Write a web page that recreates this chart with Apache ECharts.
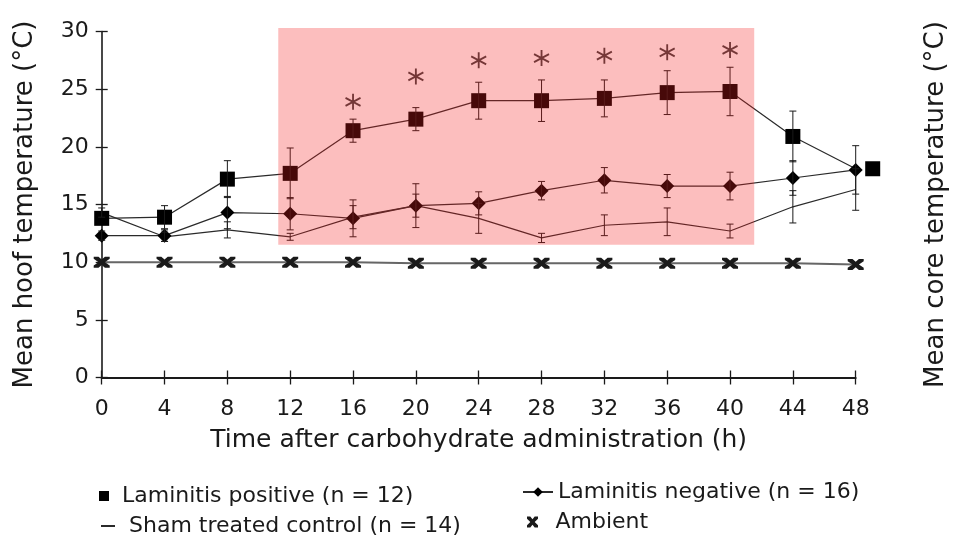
<!DOCTYPE html>
<html>
<head>
<meta charset="utf-8">
<script src="https://cdn.jsdelivr.net/npm/echarts@6/dist/echarts.min.js"></script>
<style>html,body{margin:0;padding:0;background:#fff;overflow:hidden}#chart{width:953px;height:536px}</style>
</head>
<body>
<div id="chart"></div>
<script>
// ---- data ----
const hours = [0, 4, 8, 12, 16, 20, 24, 28, 32, 36, 40, 44, 48];
const xTicks = [0, 4, 8, 12, 16, 20, 24, 28, 32, 36, 40, 44, 48];
const yTicks = [0, 5, 10, 15, 20, 25, 30];
const positive    = [13.8, 13.9, 17.2, 17.7, 21.4, 22.4, 24.0, 24.0, 24.2, 24.7, 24.8, 20.9, 18.1];
const positiveErr = [0, 1.0, 1.6, 2.2, 1.0, 1.0, 1.6, 1.8, 1.6, 1.9, 2.1, 2.2, 0];
const negative    = [12.3, 12.3, 14.3, 14.2, 13.8, 14.9, 15.1, 16.2, 17.1, 16.6, 16.6, 17.3, 18.0];
const negativeErr = [0.4, 0.5, 1.4, 1.4, 1.6, 1.9, 1.0, 0.8, 1.1, 1.0, 1.2, 1.5, 2.1];
const sham        = [14.3, 12.2, 12.8, 12.2, 13.9, 14.9, 13.8, 12.1, 13.2, 13.5, 12.7, 14.8, 16.3];
const shamErr     = [0.4, 0.4, 0.7, 0.3, 1.0, 1.0, 1.3, 0.4, 0.9, 1.2, 0.6, 1.4, 1.8];
const ambient     = [10.0, 10.0, 10.0, 10.0, 10.0, 9.9, 9.9, 9.9, 9.9, 9.9, 9.9, 9.9, 9.8];
const starHours   = [16, 20, 24, 28, 32, 36, 40];
const starLevels  = [23.9, 26.1, 27.5, 27.7, 27.9, 28.2, 28.4];
const highlight   = [11.24, 30.3, 41.54, 11.5]; // x0, y0, x1, y1 (data units)
const names = {
  pos: 'Laminitis positive (n = 12)',
  neg: 'Laminitis negative (n = 16)',
  sham: 'Sham treated control (n = 14)',
  amb: 'Ambient'
};

// ---- styling ----
const FONT = 'DejaVu Sans';
const INK = '#1a1a1a';
const AMB_SYMBOL = 'path://M0,0L3,0L5,2.5L7,0L10,0L10,2L7,5L10,8L10,10L7,10L5,7.5L3,10L0,10L0,8L3,5L0,2Z';
const STAR_SYMBOL = 'path://M5,0L5,10M0.67,2.5L9.33,7.5M0.67,7.5L9.33,2.5';

function pairs(vals) { return hours.map((h, i) => [h, vals[i]]); }
function errData(vals, errs) {
  return hours.map((h, i) => [h, vals[i] - errs[i], vals[i] + errs[i], errs[i]]);
}
function errRender(params, api) {
  if (api.value(3) <= 0) return null;
  const x = api.value(0);
  const top = api.coord([x, api.value(2)]);
  const bot = api.coord([x, api.value(1)]);
  const w = 3.5;
  const st = { stroke: INK, lineWidth: 1 };
  return { type: 'group', children: [
    { type: 'line', shape: { x1: top[0], y1: top[1], x2: bot[0], y2: bot[1] }, style: st },
    { type: 'line', shape: { x1: top[0] - w, y1: top[1], x2: top[0] + w, y2: top[1] }, style: st },
    { type: 'line', shape: { x1: bot[0] - w, y1: bot[1], x2: bot[0] + w, y2: bot[1] }, style: st }
  ]};
}
function errSeries(vals, errs) {
  return { type: 'custom', renderItem: errRender, data: errData(vals, errs), xAxisIndex: 0, yAxisIndex: 0,
           encode: { x: 0, y: [1, 2] }, z: 3, silent: true, clip: false };
}

const posData = pairs(positive).map((p, i) =>
  i === hours.length - 1 ? { value: p, symbolOffset: [17, 0] } : p);

const axisText = { fontFamily: FONT, fontSize: 22, color: INK };
const legendBase = {
  orient: 'horizontal', itemGap: 0,
  textStyle: { fontFamily: FONT, fontSize: 22, color: INK }
};

const chart = echarts.init(document.getElementById('chart'), null, { renderer: 'canvas' });
chart.setOption({
  animation: false,
  backgroundColor: '#fff',
  grid: { left: 101.7, right: 97.3, top: 31.5, bottom: 158.5, containLabel: false, outerBoundsMode: 'none' },
  xAxis: [
    { type: 'value', position: 'bottom', min: 0, max: 48, interval: 4,
      axisLine: { show: true, onZero: false, lineStyle: { color: INK, width: 2 } },
      axisTick: { show: true, length: 7, lineStyle: { color: INK, width: 1.3 } },
      axisLabel: Object.assign({ margin: 21, formatter: v => xTicks.includes(v) ? String(v) : '' }, axisText),
      splitLine: { show: false },
      name: 'Time after carbohydrate administration (h)', nameLocation: 'middle', nameGap: 50,
      nameTextStyle: { fontFamily: FONT, fontSize: 25, color: INK } },
    { type: 'value', position: 'bottom', min: 0, max: 48, interval: 4,
      axisLine: { show: false, onZero: false },
      axisTick: { show: true, inside: true, length: 7, lineStyle: { color: INK, width: 1.3 } },
      axisLabel: { show: false }, splitLine: { show: false } }
  ],
  yAxis: [
    { type: 'value', position: 'left', min: 0, max: 30, interval: 5,
      axisLine: { show: true, onZero: false, lineStyle: { color: INK, width: 1.6 } },
      axisTick: { show: true, length: 6, lineStyle: { color: INK, width: 1.3 } },
      axisLabel: Object.assign({ margin: 13, formatter: v => yTicks.includes(v) ? String(v) : '' }, axisText),
      splitLine: { show: false },
      name: 'Mean hoof temperature (°C)', nameLocation: 'middle', nameGap: 63,
      nameTextStyle: { fontFamily: FONT, fontSize: 26, color: INK } },
    { type: 'value', position: 'left', min: 0, max: 30, interval: 5,
      axisLine: { show: false, onZero: false },
      axisTick: { show: true, inside: true, length: 6, lineStyle: { color: INK, width: 1.3 } },
      axisLabel: { show: false }, splitLine: { show: false } },
    { type: 'value', position: 'right', min: 0, max: 30, interval: 5,
      axisLine: { show: false }, axisTick: { show: false }, axisLabel: { show: false },
      splitLine: { show: false },
      name: 'Mean core temperature (°C)', nameLocation: 'middle', nameGap: 68,
      nameTextStyle: { fontFamily: FONT, fontSize: 26, color: INK } }
  ],
  legend: [
    Object.assign({ data: [{ name: names.pos, icon: 'rect' }], left: 94, top: 480,
                    itemWidth: 10, itemHeight: 10, padding: [5, 5, 5, 5] }, legendBase,
                  { textStyle: { fontFamily: FONT, fontSize: 22, color: INK, padding: [0, 0, 0, 8] } }),
    Object.assign({ data: [{ name: names.sham, icon: 'rect' }], left: 96, top: 510,
                    itemWidth: 14, itemHeight: 2, padding: [5, 5, 5, 5] }, legendBase,
                  { textStyle: { fontFamily: FONT, fontSize: 22, color: INK, padding: [0, 0, 0, 9] } }),
    Object.assign({ data: [names.neg], left: 517, top: 476, itemWidth: 30, itemHeight: 12 }, legendBase),
    Object.assign({ data: [{ name: names.amb, icon: AMB_SYMBOL }], left: 522, top: 506,
                    itemWidth: 16, itemHeight: 11 }, legendBase,
                  { textStyle: { fontFamily: FONT, fontSize: 22, color: INK, padding: [0, 0, 0, 10] } })
  ],
  series: [
    { name: names.amb, type: 'line', data: pairs(ambient), xAxisIndex: 0, yAxisIndex: 0,
      symbol: AMB_SYMBOL, symbolSize: [16, 11], showAllSymbol: true,
      lineStyle: { color: '#666', width: 2 }, itemStyle: { color: INK }, z: 2 },
    { name: names.sham, type: 'line', data: pairs(sham), xAxisIndex: 0, yAxisIndex: 0,
      symbol: 'none', lineStyle: { color: '#2a2a2a', width: 1.2 }, itemStyle: { color: '#2a2a2a' }, z: 2 },
    errSeries(sham, shamErr),
    { name: names.neg, type: 'line', data: pairs(negative), xAxisIndex: 0, yAxisIndex: 0,
      symbol: 'diamond', symbolSize: 14, showAllSymbol: true,
      lineStyle: { color: '#2a2a2a', width: 1.2 }, itemStyle: { color: '#000' }, z: 2 },
    errSeries(negative, negativeErr),
    { name: names.pos, type: 'line', data: posData, xAxisIndex: 0, yAxisIndex: 0, clip: false,
      symbol: 'rect', symbolSize: 15, showAllSymbol: true,
      lineStyle: { color: '#2a2a2a', width: 1.2 }, itemStyle: { color: '#000' }, z: 2 },
    errSeries(positive, positiveErr),
    { name: 'significance', type: 'scatter', xAxisIndex: 0, yAxisIndex: 0,
      data: starHours.map((h, i) => [h, starLevels[i]]),
      symbol: STAR_SYMBOL, symbolSize: [15, 16],
      itemStyle: { color: 'transparent', borderColor: '#111', borderWidth: 1.9 }, z: 3, silent: true },
    { name: 'window', type: 'custom', xAxisIndex: 0, yAxisIndex: 0, silent: true, z: 10,
      data: [highlight],
      renderItem: function (params, api) {
        const a = api.coord([api.value(0), api.value(1)]);
        const b = api.coord([api.value(2), api.value(3)]);
        return { type: 'rect', shape: { x: a[0], y: a[1], width: b[0] - a[0], height: b[1] - a[1] },
                 style: { fill: 'rgba(245,30,30,0.29)' } };
      } }
  ]
});
</script>
</body>
</html>
